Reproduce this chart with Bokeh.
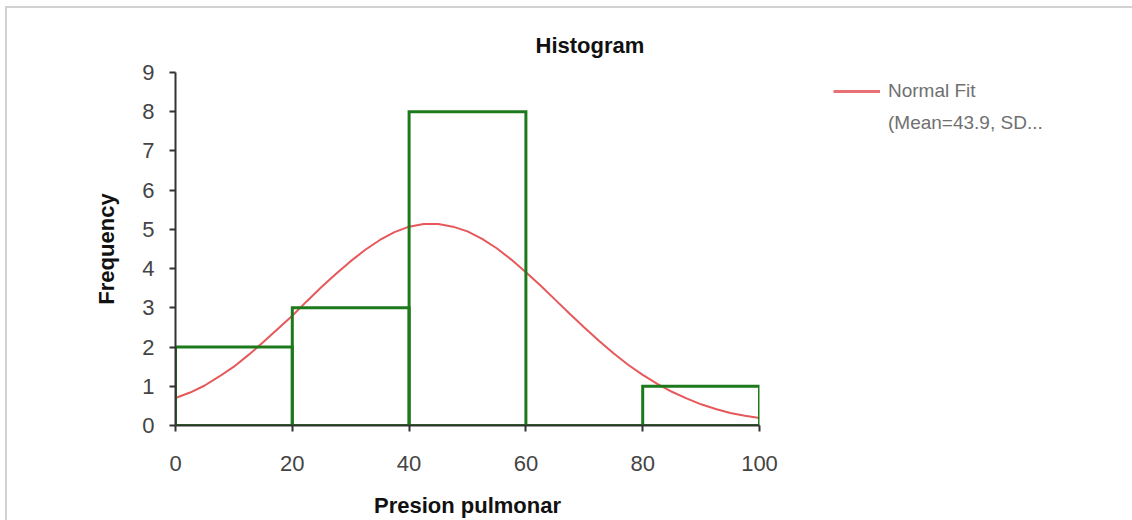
from bokeh.plotting import figure
from bokeh.layouts import row
from bokeh.models import (Range1d, FixedTicker, Title, Legend, LegendItem)
from bokeh.embed import file_html
from bokeh.resources import INLINE

# ---- data ----
bin_left = [0, 20, 40, 60, 80]
bin_right = [20, 40, 60, 80, 100]
counts = [2, 3, 8, 0, 1]

fit_x = [0, 2.5, 5, 7.5, 10, 12.5, 15, 17.5, 20, 22.5, 25, 27.5, 30, 32.5, 35, 37.5,
         40, 42.5, 45, 47.5, 50, 52.5, 55, 57.5, 60, 62.5, 65, 67.5, 70, 72.5, 75,
         77.5, 80, 82.5, 85, 87.5, 90, 92.5, 95, 97.5, 100]
fit_y = [0.70, 0.84, 1.02, 1.25, 1.50, 1.80, 2.12, 2.46, 2.80, 3.17, 3.53, 3.87, 4.19,
         4.48, 4.73, 4.93, 5.07, 5.14, 5.14, 5.07, 4.95, 4.76, 4.52, 4.23, 3.91, 3.57,
         3.21, 2.85, 2.50, 2.16, 1.84, 1.55, 1.29, 1.06, 0.86, 0.69, 0.54, 0.42, 0.32,
         0.25, 0.19]

x_ticks = [0, 20, 40, 60, 80, 100]
y_ticks = [0, 1, 2, 3, 4, 5, 6, 7, 8, 9]

title_text = "Histogram"
x_label = "Presion pulmonar"
y_label = "Frequency"
legend_line1 = "Normal Fit"
legend_line2 = "(Mean=43.9, SD..."

FONT = "Liberation Sans"
RED = "#e6585a"
GREEN = "#1c7a1c"

p = figure(width=800, height=520, output_backend="svg", toolbar_location=None,
           x_range=Range1d(0, 100), y_range=Range1d(0, 9),
           min_border_left=175, min_border_right=41,
           min_border_top=72, min_border_bottom=94)
p.title = None
p.add_layout(Title(text=title_text, align="left", offset=360, standoff=29,
                   text_font=FONT, text_font_size="22px", text_font_style="bold",
                   text_color="#111111"), "above")

p.border_fill_color = None
p.background_fill_color = None
p.outline_line_color = None
p.xgrid.visible = False
p.ygrid.visible = False

for ax in (p.xaxis[0], p.yaxis[0]):
    ax.axis_line_color = "#333333"
    ax.axis_line_width = 2
    ax.major_tick_line_color = "#333333"
    ax.major_tick_line_width = 2
    ax.major_tick_out = 6
    ax.major_tick_in = 0
    ax.minor_tick_line_color = None
    ax.major_label_text_font = FONT
    ax.major_label_text_font_size = "22px"
    ax.major_label_text_color = "#444444"
    ax.axis_label_text_font = FONT
    ax.axis_label_text_font_size = "22px"
    ax.axis_label_text_font_style = "bold"
    ax.axis_label_text_color = "#111111"

p.xaxis.ticker = FixedTicker(ticks=x_ticks)
p.yaxis.ticker = FixedTicker(ticks=y_ticks)
p.xaxis.axis_label = x_label
p.yaxis.axis_label = y_label
p.xaxis.major_label_standoff = 24
p.xaxis.axis_label_standoff = 19
p.yaxis.major_label_standoff = 15
p.yaxis.axis_label_standoff = 20

curve = p.line(fit_x, fit_y, line_color=RED, line_width=2)
p.quad(left=bin_left, right=bin_right, top=counts, bottom=[0] * len(counts),
       fill_color=None, line_color=GREEN, line_width=3, line_join="miter")

# ---- legend panel (separate canvas to the right of the chart) ----
q = figure(width=332, height=520, output_backend="svg", toolbar_location=None,
           x_range=Range1d(0, 1), y_range=Range1d(0, 1),
           x_axis_type=None, y_axis_type=None,
           min_border_left=25, min_border_right=0, min_border_top=72, min_border_bottom=94)
q.title = None
q.border_fill_color = None
q.background_fill_color = None
q.outline_line_color = None
q.xgrid.visible = False
q.ygrid.visible = False
# legend-only renderers, kept outside the visible range of this panel
leg_line = q.line(x=[-2, -1], y=[-2, -2], line_color=RED, line_width=3, line_alpha=0.85)
leg_blank = q.line(x=[-2, -1], y=[-2, -2], line_alpha=0)

legend = Legend(items=[LegendItem(label=legend_line1, renderers=[leg_line]),
                       LegendItem(label=legend_line2, renderers=[leg_blank])],
                location="top_left", orientation="vertical",
                glyph_width=47, glyph_height=20, label_height=20, spacing=10,
                label_standoff=8, padding=0, margin=8,
                border_line_color=None, background_fill_alpha=0,
                label_text_font=FONT, label_text_font_size="19px",
                label_text_color="#707070")
q.add_layout(legend, "center")

layout = row(p, q, spacing=0)
layout.styles = {"box-shadow": "inset 5px 6px 0 0 #ffffff, inset 7px 8px 0 0 #d2d2d2",
                 "background-color": "#ffffff"}

open("out.html", "w").write(file_html(layout, INLINE))
